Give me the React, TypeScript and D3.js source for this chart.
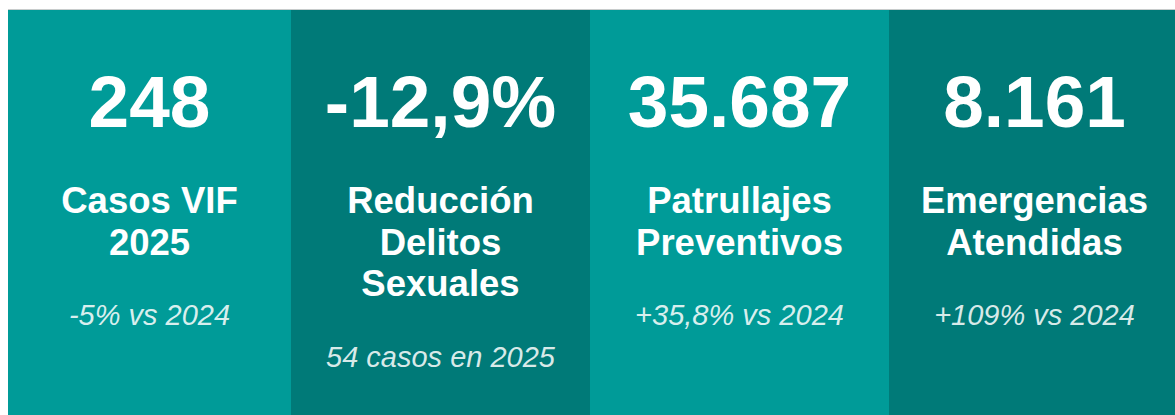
import React from "react";
import * as d3 from "d3";

const categories = ["vif", "delitos", "patrullajes", "emergencias"];
const values = ["248", "-12,9%", "35.687", "8.161"];
const labels = [
  ["Casos VIF", "2025"],
  ["Reducción", "Delitos", "Sexuales"],
  ["Patrullajes", "Preventivos"],
  ["Emergencias", "Atendidas"],
];
const subtitles = ["-5% vs 2024", "54 casos en 2025", "+35,8% vs 2024", "+109% vs 2024"];

const W = 1175;
const H = 415;
const edges = [8, 291, 590, 889, 1180];
const colors = ["#009b98", "#007a78"];
const FONT = "'Liberation Sans', Arial, Helvetica, sans-serif";

export default function App() {
  const xs = d3.scaleOrdinal<string, number>().domain(categories).range(edges.slice(0, 4));
  const ws = d3
    .scaleOrdinal<string, number>()
    .domain(categories)
    .range(edges.slice(1).map((e, i) => e - edges[i]));

  const numY = 127;
  const labelY = 213;
  const lineH = 41.5;
  const subGap = 70.5;

  return (
    <svg
      width={W}
      height={H}
      style={{ position: "absolute", left: 0, top: 0, display: "block" }}
    >
      <rect x={0} y={0} width={W} height={H} fill="#ffffff" />
      <line x1={8} x2={W} y1={9.5} y2={9.5} stroke="#c8cccc" strokeWidth={1} />
      <line x1={8.5} x2={8.5} y1={9.5} y2={H} stroke="#c8cccc" strokeWidth={1} />
      {categories.map((c, i) => {
        const x0 = xs(c);
        const w = ws(c);
        const cx = x0 + w / 2;
        const lines = labels[i];
        const subY = labelY + (lines.length - 1) * lineH + subGap;
        return (
          <g key={c}>
            <rect
              x={x0}
              y={10}
              width={w}
              height={H}
              fill={colors[i % 2]}
              shapeRendering="crispEdges"
            />
            <text
              x={cx}
              y={numY}
              textAnchor="middle"
              fill="#ffffff"
              fontFamily={FONT}
              fontWeight="bold"
              fontSize={73}
            >
              {values[i]}
            </text>
            {lines.map((l, j) => (
              <text
                key={j}
                x={cx}
                y={labelY + j * lineH}
                textAnchor="middle"
                fill="#ffffff"
                fontFamily={FONT}
                fontWeight="bold"
                fontSize={36.5}
              >
                {l}
              </text>
            ))}
            <text
              x={cx}
              y={subY}
              textAnchor="middle"
              fill="#ffffff"
              fillOpacity={0.85}
              fontFamily={FONT}
              fontStyle="italic"
              fontSize={29}
            >
              {subtitles[i]}
            </text>
          </g>
        );
      })}
    </svg>
  );
}
